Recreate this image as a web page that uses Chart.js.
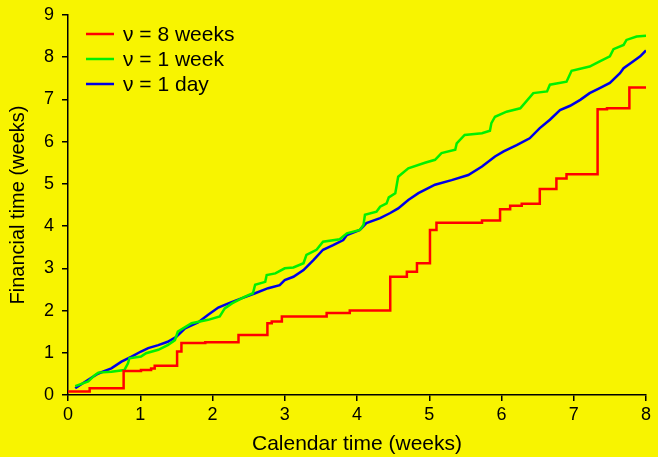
<!DOCTYPE html>
<html>
<head>
<meta charset="utf-8">
<script src="https://cdn.jsdelivr.net/npm/chart.js@4.4.1/dist/chart.umd.min.js"></script>
<style>
  html, body { margin: 0; padding: 0; background: #f8f400; }
  #wrap { width: 658px; height: 457px; }
</style>
</head>
<body>
<div id="wrap"><canvas id="chart" width="658" height="457"></canvas></div>
<script>
// nu = 8 weeks (step function)
const redT = [0, 0.30, 0.77, 1.01, 1.15, 1.20, 1.51, 1.57, 1.90, 2.36, 2.76, 2.82, 2.96, 3.58, 3.90, 4.46, 4.69, 4.83, 5.01, 5.10, 5.73, 5.98, 6.12, 6.28, 6.53, 6.76, 6.90, 7.33, 7.46, 7.77, 8.00];
const redV = [0.08, 0.16, 0.57, 0.59, 0.63, 0.69, 1.03, 1.23, 1.25, 1.42, 1.70, 1.74, 1.86, 1.94, 2.00, 2.80, 2.92, 3.12, 3.91, 4.08, 4.13, 4.40, 4.48, 4.53, 4.88, 5.13, 5.23, 6.77, 6.79, 7.28, 7.28];

// nu = 1 week
const greenT = [0.10, 0.28, 0.37, 0.42, 0.60, 0.78, 0.83, 0.85, 1.01, 1.08, 1.25, 1.38, 1.48, 1.52, 1.71, 1.94, 2.10, 2.17, 2.27, 2.45, 2.56, 2.59, 2.73, 2.75, 2.87, 3.00, 3.12, 3.26, 3.30, 3.44, 3.53, 3.76, 3.86, 4.04, 4.09, 4.11, 4.27, 4.32, 4.41, 4.44, 4.53, 4.57, 4.71, 4.94, 5.08, 5.17, 5.36, 5.38, 5.49, 5.73, 5.84, 5.86, 5.91, 6.07, 6.26, 6.44, 6.63, 6.67, 6.90, 6.97, 7.22, 7.36, 7.50, 7.55, 7.69, 7.73, 7.87, 8.00];
const greenV = [0.21, 0.32, 0.47, 0.53, 0.55, 0.59, 0.75, 0.87, 0.91, 0.99, 1.07, 1.18, 1.30, 1.50, 1.70, 1.78, 1.86, 2.05, 2.17, 2.33, 2.41, 2.61, 2.68, 2.84, 2.88, 3.00, 3.02, 3.12, 3.32, 3.44, 3.63, 3.69, 3.83, 3.91, 4.03, 4.27, 4.34, 4.46, 4.54, 4.68, 4.78, 5.17, 5.37, 5.50, 5.57, 5.73, 5.81, 5.96, 6.16, 6.20, 6.26, 6.44, 6.59, 6.71, 6.79, 7.15, 7.19, 7.35, 7.42, 7.68, 7.78, 7.90, 8.02, 8.19, 8.29, 8.41, 8.49, 8.51];

// nu = 1 day
const blueT = [0.10, 0.28, 0.42, 0.60, 0.74, 0.88, 1.01, 1.11, 1.25, 1.38, 1.50, 1.62, 1.80, 1.94, 2.08, 2.22, 2.40, 2.59, 2.77, 2.93, 3.00, 3.12, 3.26, 3.40, 3.53, 3.67, 3.81, 3.86, 4.04, 4.13, 4.32, 4.46, 4.57, 4.71, 4.85, 5.08, 5.31, 5.54, 5.73, 5.91, 6.03, 6.21, 6.39, 6.53, 6.67, 6.81, 6.95, 7.09, 7.22, 7.36, 7.50, 7.64, 7.69, 7.82, 7.92, 8.00];
const blueV = [0.16, 0.36, 0.51, 0.63, 0.79, 0.91, 1.03, 1.11, 1.18, 1.26, 1.38, 1.58, 1.72, 1.90, 2.07, 2.17, 2.29, 2.41, 2.53, 2.60, 2.72, 2.80, 2.96, 3.20, 3.44, 3.55, 3.67, 3.79, 3.91, 4.07, 4.19, 4.31, 4.42, 4.62, 4.78, 4.98, 5.09, 5.21, 5.41, 5.65, 5.77, 5.92, 6.08, 6.32, 6.52, 6.75, 6.85, 6.99, 7.15, 7.27, 7.39, 7.62, 7.74, 7.90, 8.02, 8.16];

const labels = ['\u03bd = 8 weeks', '\u03bd = 1 week', '\u03bd = 1 day'];
const colors = ['#ff0000', '#00f000', '#0000e6'];
const xTicks = [0, 1, 2, 3, 4, 5, 6, 7, 8];
const yTicks = [0, 1, 2, 3, 4, 5, 6, 7, 8, 9];

const FONT = "'Liberation Sans', Arial, sans-serif";

function pts(t, v) {
    return t.map((x, i) => ({ x: x, y: v[i] }));
}

// paint the yellow background
const bgPlugin = {
    id: 'bg',
    beforeDraw(chart) {
        const ctx = chart.ctx;
        ctx.save();
        ctx.fillStyle = '#f8f400';
        ctx.fillRect(0, 0, chart.width, chart.height);
        ctx.restore();
    }
};

// legend inside the plot, top-left
const insideLegend = {
    id: 'insideLegend',
    afterDraw(chart) {
        const ctx = chart.ctx;
        ctx.save();
        ctx.font = '21px ' + FONT;
        ctx.textBaseline = 'middle';
        chart.data.datasets.forEach((ds, i) => {
            const y = 34 + i * 25;
            ctx.strokeStyle = ds.borderColor;
            ctx.lineWidth = 2.5;
            ctx.beginPath();
            ctx.moveTo(86, y);
            ctx.lineTo(114, y);
            ctx.stroke();
            ctx.fillStyle = '#000';
            ctx.fillText(ds.label, 123, y + 1);
        });
        ctx.restore();
    }
};

const ctx = document.getElementById('chart').getContext('2d');
new Chart(ctx, {
    type: 'line',
    data: {
        datasets: [
            { label: labels[0], data: pts(redT, redV), borderColor: colors[0], stepped: true },
            { label: labels[1], data: pts(greenT, greenV), borderColor: colors[1] },
            { label: labels[2], data: pts(blueT, blueV), borderColor: colors[2] }
        ]
    },
    options: {
        responsive: false,
        animation: false,
        layout: { padding: { top: 15, right: 12, left: 0, bottom: 0 } },
        elements: {
            point: { radius: 0 },
            line: { borderWidth: 2.5, tension: 0, fill: false }
        },
        plugins: {
            legend: { display: false },
            tooltip: { enabled: false }
        },
        scales: {
            x: {
                type: 'linear',
                min: 0, max: 8,
                afterBuildTicks: s => { s.ticks = xTicks.map(v => ({ value: v })); },
                afterFit: s => { s.height = 62; s.paddingLeft = 0; s.paddingRight = 0; },
                grid: { drawOnChartArea: false, drawTicks: true, tickLength: 6, color: '#000', lineWidth: 1.5 },
                border: { display: true, color: '#000', width: 1.5 },
                ticks: { color: '#000', font: { family: FONT, size: 18 }, padding: 3, maxRotation: 0 },
                title: { display: true, text: 'Calendar time (weeks)', color: '#000', font: { family: FONT, size: 21 }, padding: { top: 0, bottom: 0 } }
            },
            y: {
                type: 'linear',
                min: 0, max: 9,
                afterBuildTicks: s => { s.ticks = yTicks.map(v => ({ value: v })); },
                afterFit: s => { s.width = 68; s.paddingTop = 0; s.paddingBottom = 0; },
                grid: { drawOnChartArea: false, drawTicks: true, tickLength: 6, color: '#000', lineWidth: 1.5 },
                border: { display: true, color: '#000', width: 1.5 },
                ticks: { color: '#000', font: { family: FONT, size: 18 }, padding: 8 },
                title: { display: true, text: 'Financial time (weeks)', color: '#000', font: { family: FONT, size: 20 }, padding: { top: 6, bottom: 0 } }
            }
        }
    },
    plugins: [bgPlugin, insideLegend]
});
</script>
</body>
</html>
